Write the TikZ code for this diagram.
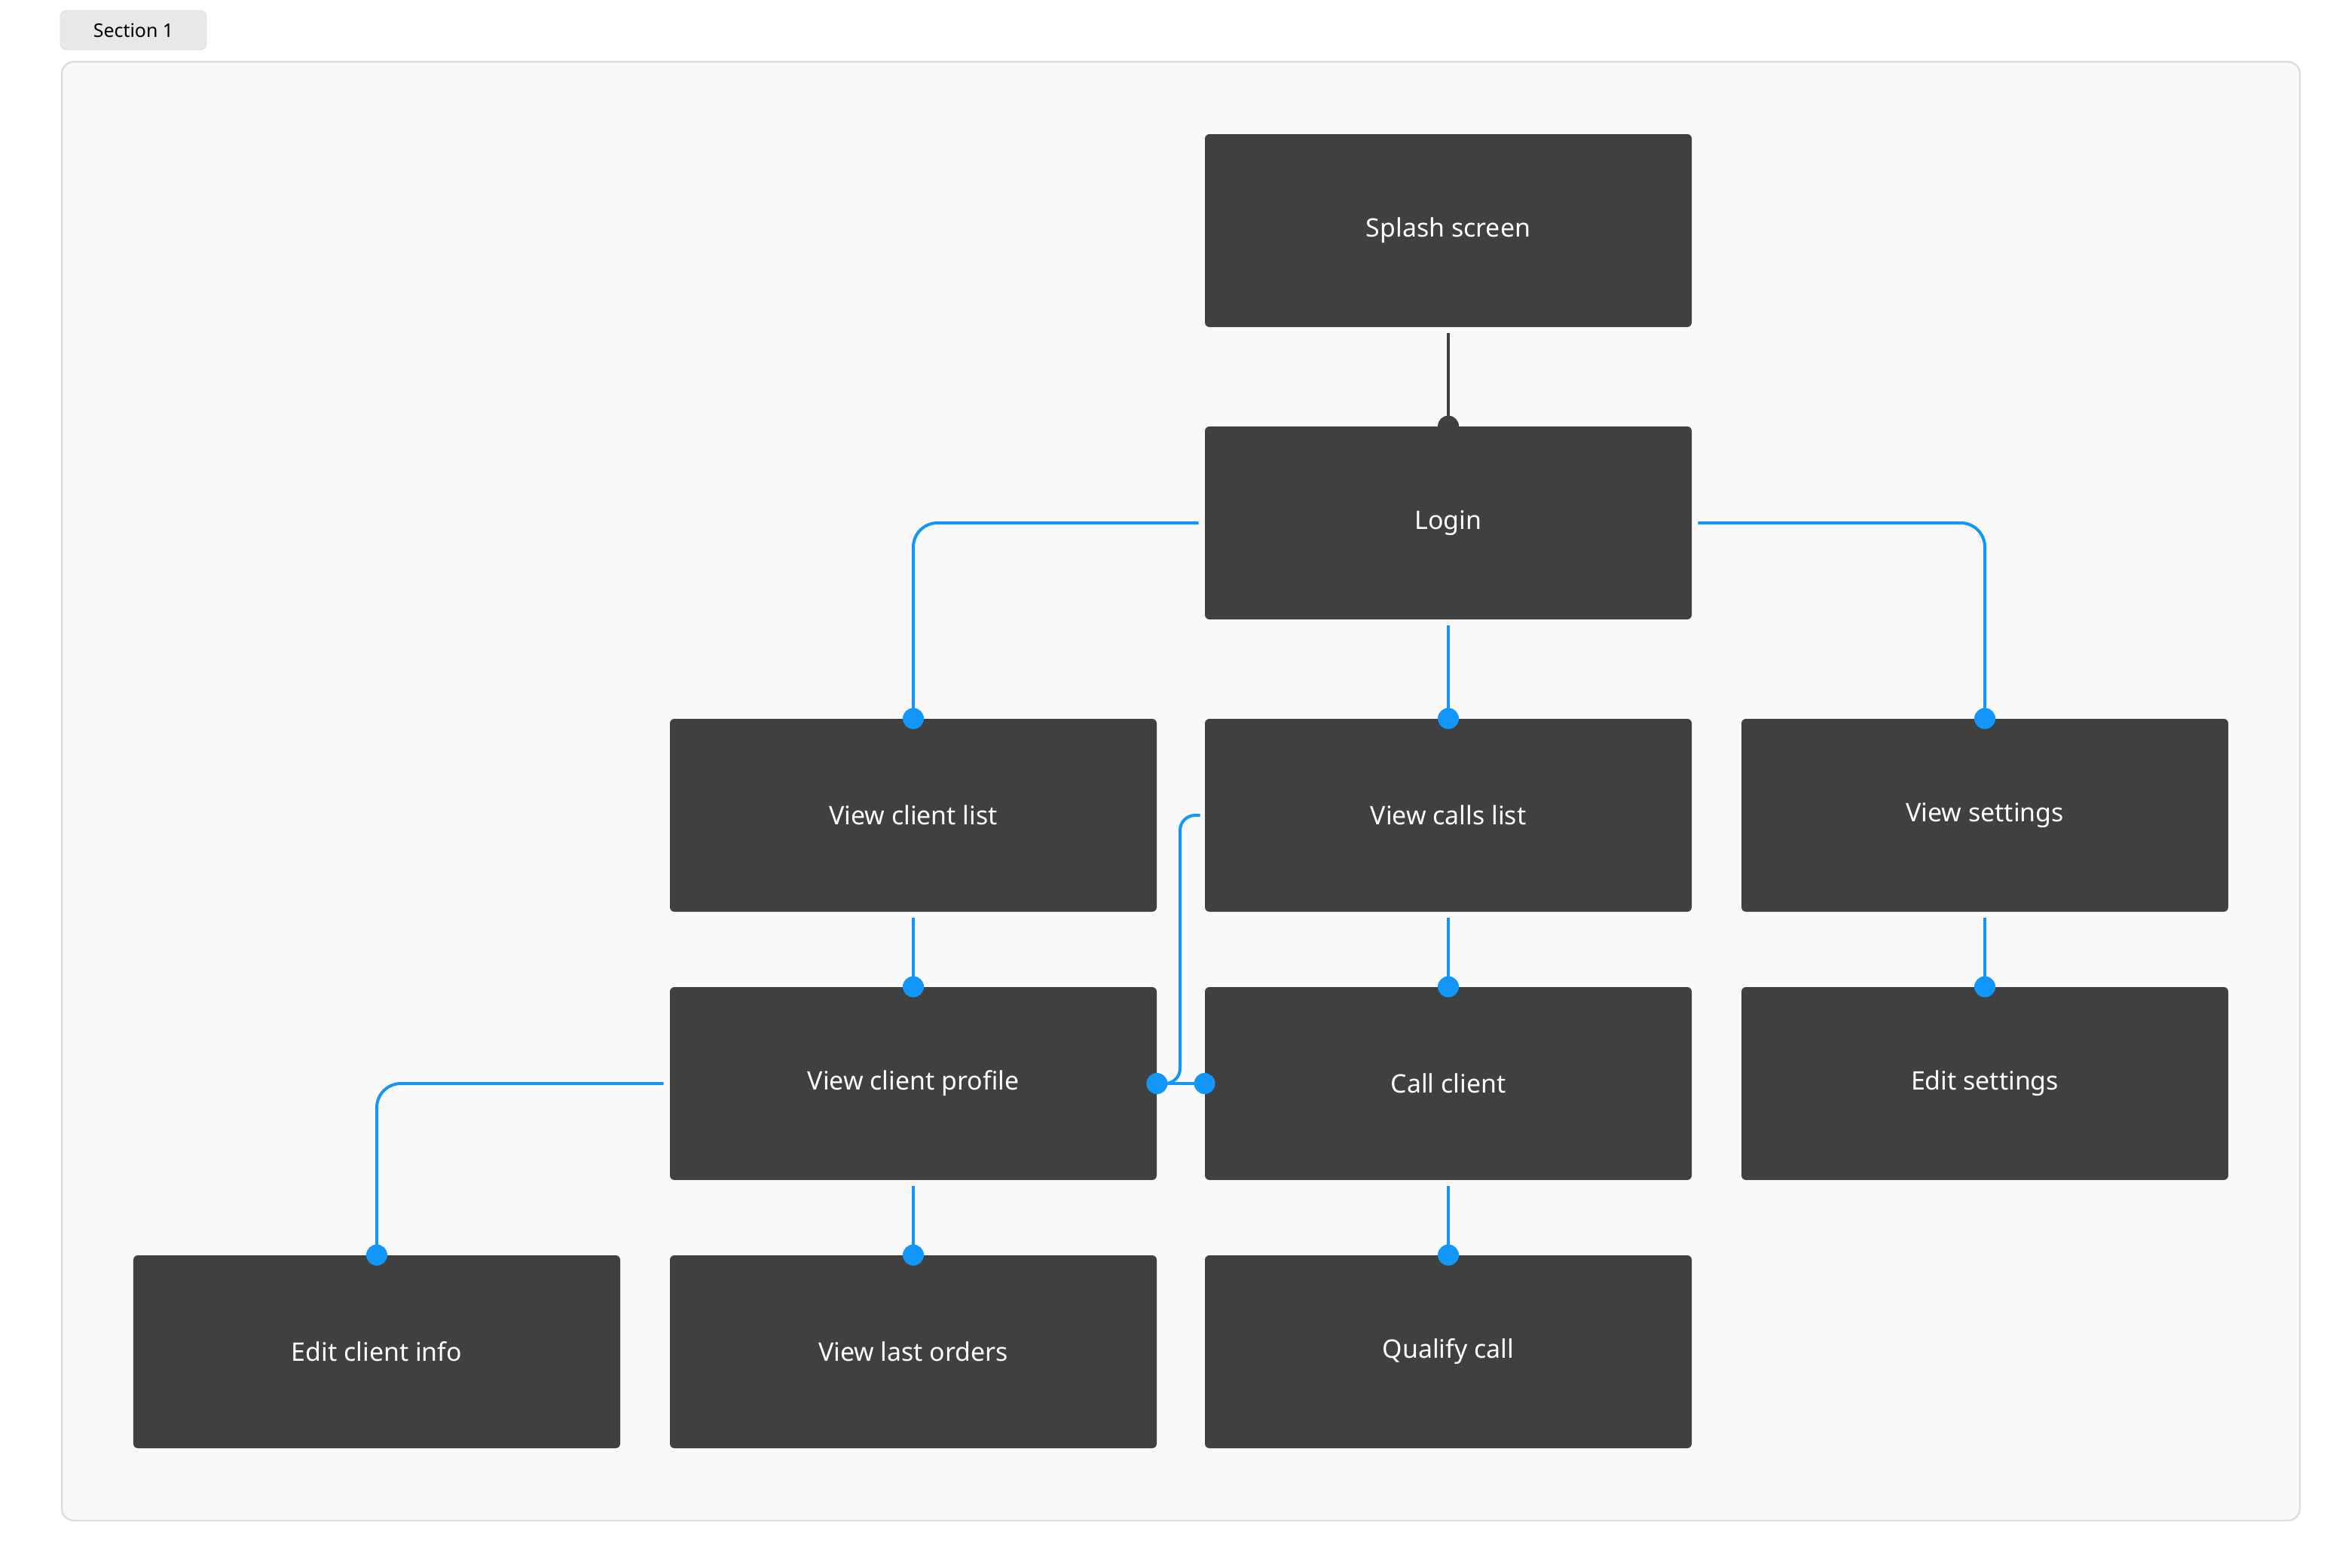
\documentclass[tikz,border=0pt]{standalone}
\usepackage{fontspec}
\setmainfont{Noto Sans}
\begin{document}
\begin{tikzpicture}[x=1bp,y=-1bp,
  box/.style={draw=none,fill=boxc,rounded corners=3bp,minimum width=323bp,minimum height=128bp,text=white,font=\fontsize{17}{20}\selectfont,inner sep=0},
  con/.style={draw=bluec,line width=2bp,rounded corners=16bp},
  dot/.style={circle,fill=bluec,inner sep=0,minimum size=14bp}]
\definecolor{boxc}{HTML}{404040}
\definecolor{bluec}{HTML}{1296FA}
\definecolor{framec}{HTML}{DDDDDD}
\useasboundingbox (0,0) rectangle (1552,1040);
\fill[white] (0,0) rectangle (1552,1040);
\draw[framec,fill={rgb,255:red,249;green,249;blue,249},line width=1.2bp,rounded corners=8bp] (41,41) rectangle (1526,1009);
\node[draw=framec,fill={rgb,255:red,232;green,232;blue,232},rounded corners=4bp,minimum width=97bp,minimum height=26bp,inner sep=0,font=\fontsize{12.5}{14}\selectfont] (tab) at (88.5,20) {Section 1};
\node[box] (splash) at (961,153) {Splash screen};
\node[box] (login) at (961,347) {Login};
\node[box] (vcl) at (606,541) {View client list};
\node[box] (vcall) at (961,541) {View calls list};
\node[box] (vset) at (1317,541) {View settings};
\node[box] (vcp) at (606,719) {View client profile};
\node[box] (call) at (961,719) {Call client};
\node[box] (eset) at (1317,719) {Edit settings};
\node[box] (eci) at (250,897) {Edit client info};
\node[box] (vlo) at (606,897) {View last orders};
\node[box] (qc) at (961,897) {Qualify call};
% splash-login
\draw[boxc,line width=2bp] ([yshift=-4bp]splash.south) -- (login.north);
\fill[boxc] (login.north) circle (7bp);
% login branches
\draw[con] ([xshift=-4bp]login.west) -| (vcl.north);
\node[dot] at (vcl.north) {};
\draw[con] ([yshift=-4bp]login.south) -- (vcall.north);
\node[dot] at (vcall.north) {};
\draw[con] ([xshift=4bp]login.east) -| (vset.north);
\node[dot] at (vset.north) {};
% column links
\draw[con] ([yshift=-4bp]vcl.south) -- (vcp.north);
\node[dot] at (vcp.north) {};
\draw[con] ([yshift=-4bp]vcall.south) -- (call.north);
\node[dot] at (call.north) {};
\draw[con] ([yshift=-4bp]vset.south) -- (eset.north);
\node[dot] at (eset.north) {};
\draw[con] ([yshift=-4bp]vcp.south) -- (vlo.north);
\node[dot] at (vlo.north) {};
\draw[con] ([yshift=-4bp]call.south) -- (qc.north);
\node[dot] at (qc.north) {};
\draw[con] ([xshift=-4bp]vcp.west) -| (eci.north);
\node[dot] at (eci.north) {};
% calls list -> profile
\coordinate (bend) at (783,541);
\draw[con,rounded corners=10bp] ([xshift=-3bp]vcall.west) -- (bend) -- (783,719) -- (vcp.east);
\draw[con] (call.west) -- (vcp.east);
\node[dot] at (vcp.east) {};
\node[dot] at (call.west) {};
\end{tikzpicture}
\end{document}
